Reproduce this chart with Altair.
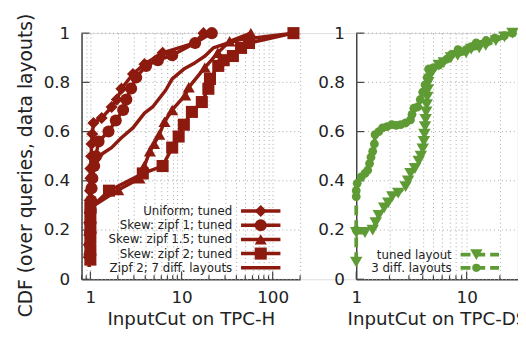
import altair as alt
import pandas as pd

RED = "#8C1A0F"
GREEN = "#5F9B35"
AXIS = "#444444"
GRID = "#a8a8a8"
TEXT = "#222222"
FONT = "DejaVu Sans"

# ---------------- TPC-H (left panel) ----------------
h_names = ["Uniform; tuned", "Skew: zipf 1; tuned", "Skew: zipf 1.5; tuned",
           "Skew: zipf 2; tuned", "Zipf 2; 7 diff. layouts"]
h_shapes = ["diamond", "circle", "triangle-up", "square"]

uni_x = [0.96, 0.96, 0.97, 0.97, 0.98, 0.98, 0.99, 1.0, 1.0, 1.02, 1.03, 1.05,
         1.08, 1.33, 1.71, 1.95, 2.19, 2.93, 3.92, 6.2, 14, 17.4]
uni_y = [0.09, 0.14, 0.18, 0.23, 0.27, 0.32, 0.36, 0.41, 0.45, 0.50, 0.55, 0.59,
         0.635, 0.655, 0.70, 0.73, 0.774, 0.834, 0.874, 0.92, 0.96, 1.0]

z1_x = [0.98, 0.99, 1.0, 1.0, 1.01, 1.02, 1.03, 1.05, 1.1, 1.15, 1.23, 1.58,
        1.9, 2.29, 2.48, 2.8, 3.18, 4.08, 5.5, 7.9, 14.1, 21.5]
z1_y = [0.10, 0.14, 0.19, 0.23, 0.28, 0.32, 0.37, 0.41, 0.46, 0.50, 0.56, 0.60,
        0.645, 0.688, 0.73, 0.775, 0.82, 0.867, 0.89, 0.91, 0.96, 1.0]

z15_x = [1.0, 1.0, 1.0, 1.0, 1.0, 1.0, 2.02, 3.46, 3.9, 4.5, 5.0, 5.7,
         6.5, 7.9, 11, 12, 18, 25, 33.7, 57.6]
z15_y = [0.08, 0.12, 0.17, 0.21, 0.25, 0.29, 0.363, 0.41, 0.46, 0.52, 0.55, 0.588,
         0.64, 0.688, 0.748, 0.78, 0.86, 0.92, 0.967, 1.0]

z2_x = [1.0, 1.0, 1.0, 1.0, 1.0, 1.0, 1.6, 3.76, 6.2, 7.9, 9.3, 10.6,
        13, 16.7, 19.7, 20.5, 25.3, 29, 36.6, 45, 55, 169]
z2_y = [0.08, 0.12, 0.17, 0.21, 0.25, 0.29, 0.36, 0.43, 0.46, 0.535, 0.58, 0.628,
        0.68, 0.72, 0.774, 0.814, 0.867, 0.89, 0.907, 0.94, 0.96, 1.0]

z2l_x = [0.97, 0.98, 1.0, 1.05, 1.15, 1.35, 1.71, 2.19, 2.93, 3.92, 4.82, 6.7,
         7.9, 10.6, 14.1, 18.1, 22.3, 28.5, 42.8, 169]
z2l_y = [0.05, 0.20, 0.35, 0.42, 0.47, 0.51, 0.535, 0.575, 0.615, 0.675, 0.70, 0.768,
         0.814, 0.854, 0.88, 0.907, 0.94, 0.953, 0.973, 1.0]

h_ticks_major = [1, 10, 100]
h_ticks_minor = [0.8, 0.9, 2, 3, 4, 5, 6, 7, 8, 9, 20, 30, 40, 50, 60, 70, 80, 90, 200]

# ---------------- TPC-DS (right panel) ----------------
ds_names = ["tuned layout", "3 diff. layouts"]

tun_x = [1.0, 1.0, 1.2, 1.41, 1.5, 1.6, 1.79, 1.95, 2.12, 2.4, 2.8,
         2.95, 3.1, 3.4, 3.68, 3.85, 4.0, 4.1, 4.15, 4.2, 4.25, 4.3, 4.35, 4.4,
         4.45, 4.5, 4.7, 5.0, 5.6, 6.2, 7.2, 8.3, 9.9, 11, 13, 14.9, 18.4, 22, 26]
tun_y = [0.07, 0.19, 0.19, 0.20, 0.23, 0.26, 0.29, 0.31, 0.336, 0.35, 0.376,
         0.40, 0.43, 0.45, 0.48, 0.50, 0.53, 0.56, 0.59, 0.62, 0.65, 0.68, 0.71, 0.74,
         0.77, 0.80, 0.83, 0.85, 0.87, 0.88, 0.90, 0.91, 0.92, 0.935, 0.94, 0.95, 0.97, 0.985, 1.0]

dif_x = [1.0, 1.0, 1.0, 1.02, 1.11, 1.2, 1.27, 1.32, 1.36, 1.41, 1.46, 1.48, 1.6, 1.73,
         1.9, 2.1, 2.3, 2.53, 2.8, 3.1, 3.2, 3.33, 3.6, 3.8, 4.0, 4.2, 4.4, 4.52,
         5.0, 5.6, 6.6, 7.3, 8.35, 9.9, 11, 12.2, 15, 18, 22, 26]
dif_y = [0.20, 0.336, 0.36, 0.39, 0.416, 0.43, 0.443, 0.47, 0.496, 0.52, 0.55, 0.588, 0.60, 0.615,
         0.62, 0.628, 0.625, 0.628, 0.635, 0.648, 0.67, 0.695, 0.70, 0.73, 0.76, 0.79, 0.82, 0.854,
         0.86, 0.87, 0.894, 0.914, 0.933, 0.933, 0.945, 0.96, 0.97, 0.98, 0.99, 1.0]

ds_ticks_major = [1, 10]
ds_ticks_minor = [2, 3, 4, 5, 6, 7, 8, 9, 20]

y_ticks = [0, 0.2, 0.4, 0.6, 0.8, 1.0]

# ---------------- layout constants ----------------
W, H = 443, 250            # one plot area holding both panels
L_RANGE = [0, 222]         # pixel span of the TPC-H panel
R_RANGE = [279, 443]       # pixel span of the TPC-DS panel
LABEL_SIZE = 17
TITLE_SIZE = 18.5


def frame(names, series):
    rows = []
    for name, (xs, ys) in zip(names, series):
        for i, (a, b) in enumerate(zip(xs, ys)):
            rows.append({"series": name, "x": a, "y": b, "idx": i})
    return pd.DataFrame(rows)


def x_axis(title, majors, minors):
    cond = " || ".join(f"datum.value == {m}" for m in majors)
    return alt.Axis(
        title=title, orient="bottom", values=sorted(majors + minors), ticks=False,
        labelExpr=f"({cond}) ? format(datum.value, 'd') : ''",
        labelOverlap=False, labelFlush=False, labelPadding=10.5,
        grid=True, gridDash=[1, 3], gridColor=GRID, gridWidth=1,
        domainColor=AXIS, domainWidth=1.5, labelFont=FONT, titleFont=FONT,
        labelFontSize=LABEL_SIZE, titleFontSize=TITLE_SIZE, labelColor=TEXT,
        titleColor=TEXT, titleFontWeight="normal", titleBaseline="alphabetic", titleY=45.5,
    )


def y_axis(title, offset):
    kw = dict(
        orient="left", offset=offset, values=y_ticks, format="~g", ticks=False, labelPadding=12,
        grid=False, domainColor=AXIS, domainWidth=1.5, labelFont=FONT, titleFont=FONT,
        labelFontSize=LABEL_SIZE, titleFontSize=19, labelColor=TEXT,
        titleColor=TEXT, titleFontWeight="normal", titlePadding=8, title=title,
    )
    if title:
        kw["titleY"] = 134
    return alt.Axis(**kw)


def frame_layers(xscale, xaxis, yscale, yaxis, majors, minors, x0, x1):
    X = lambda f: alt.X(f, scale=xscale, axis=xaxis)
    Y = lambda f: alt.Y(f, scale=yscale, axis=yaxis)
    layers = [
        alt.Chart(pd.DataFrame({"v": y_ticks})).mark_rule(
            color=GRID, strokeWidth=1, strokeDash=[1, 3]).encode(
            y=Y("v:Q"), x=alt.value(x0), x2=alt.value(x1)),
        alt.Chart(pd.DataFrame({"v": majors})).mark_rule(color=AXIS, strokeWidth=1.2).encode(
            x=X("v:Q"), y=alt.value(H), y2=alt.value(H - 8)),
        alt.Chart(pd.DataFrame({"v": minors})).mark_rule(color=AXIS, strokeWidth=1.2).encode(
            x=X("v:Q"), y=alt.value(H), y2=alt.value(H - 4)),
        alt.Chart(pd.DataFrame({"v": y_ticks})).mark_rule(color=AXIS, strokeWidth=1.2).encode(
            y=Y("v:Q"), x=alt.value(x0), x2=alt.value(x0 + 8)),
    ]
    return layers, X, Y


ys_l = alt.Scale(domain=[0, 1], nice=False)
ys_r = alt.Scale(domain=[0, 1], nice=False)

# ---------- left panel ----------
hdf = frame(h_names, [(uni_x, uni_y), (z1_x, z1_y), (z15_x, z15_y), (z2_x, z2_y), (z2l_x, z2l_y)])
hx = alt.Scale(type="log", domain=[0.8, 200], range=L_RANGE, nice=False)
hxa = x_axis("InputCut on TPC-H", h_ticks_major, h_ticks_minor)
hya = y_axis("CDF (over queries, data layouts)", 0)
h_frame, HX, HY = frame_layers(hx, hxa, ys_l, hya, h_ticks_major, h_ticks_minor,
                               L_RANGE[0], L_RANGE[1])

h_lines = alt.Chart(hdf).mark_line(color=RED, strokeWidth=3.5, strokeJoin="round").encode(
    x=HX("x:Q"), y=HY("y:Q"), detail="series:N", order="idx:Q")
h_points = alt.Chart(hdf).transform_filter(
    alt.FieldOneOfPredicate(field="series", oneOf=h_names[:4])
).mark_point(filled=True, opacity=1, color=RED, size=150).encode(
    x=HX("x:Q"), y=HY("y:Q"),
    shape=alt.Shape("series:N", scale=alt.Scale(domain=h_names[:4], range=h_shapes), legend=None),
)

h_leg = []
rows_l = [180.7, 195.1, 209.5, 223.9, 238.3]
for i, name in enumerate(h_names):
    d = pd.DataFrame({"label": [name]})
    h_leg.append(alt.Chart(d).mark_text(align="right", baseline="middle", font=FONT, fontSize=12,
                                        color=TEXT).encode(
        text="label:N", x=alt.value(153), y=alt.value(rows_l[i])))
    h_leg.append(alt.Chart(d).mark_rule(color=RED, strokeWidth=3.5).encode(
        x=alt.value(162), x2=alt.value(202), y=alt.value(rows_l[i])))
    if i < 4:
        h_leg.append(alt.Chart(d).mark_point(filled=True, opacity=1, color=RED, size=150,
                                             shape=h_shapes[i]).encode(
            x=alt.value(182), y=alt.value(rows_l[i])))

left = alt.layer(*h_frame, h_lines, h_points, *h_leg)

# ---------- right panel ----------
ddf = frame(ds_names, [(tun_x, tun_y), (dif_x, dif_y)])
dx = alt.Scale(type="log", domain=[1, 29], range=R_RANGE, nice=False)
dxa = x_axis("InputCut on TPC-DS", ds_ticks_major, ds_ticks_minor)
dya = y_axis(None, -R_RANGE[0])
d_frame, DX, DY = frame_layers(dx, dxa, ys_r, dya, ds_ticks_major, ds_ticks_minor,
                               R_RANGE[0], R_RANGE[1])

d_lines = alt.Chart(ddf).mark_line(color=GREEN, strokeWidth=3.8, strokeDash=[10, 5]).encode(
    x=DX("x:Q"), y=DY("y:Q"), detail="series:N", order="idx:Q")
d_tri = alt.Chart(ddf).transform_filter(alt.datum.series == ds_names[0]).mark_point(
    filled=True, opacity=1, color=GREEN, size=160, shape="triangle-down").encode(
    x=DX("x:Q"), y=DY("y:Q"))
d_dot = alt.Chart(ddf).transform_filter(alt.datum.series == ds_names[1]).mark_point(
    filled=True, opacity=1, color=GREEN, size=80, shape="circle").encode(
    x=DX("x:Q"), y=DY("y:Q"))

d_leg = []
rows_r = [225.0, 238.3]
shp = [("triangle-down", 160), ("circle", 70)]
ox = R_RANGE[0]
for i, name in enumerate(ds_names):
    d = pd.DataFrame({"label": [name]})
    d_leg.append(alt.Chart(d).mark_text(align="right", baseline="middle", font=FONT, fontSize=12,
                                        color=TEXT).encode(
        text="label:N", x=alt.value(ox + 97), y=alt.value(rows_r[i])))
    d_leg.append(alt.Chart(d).mark_rule(color=GREEN, strokeWidth=3.8, strokeDash=[10, 5]).encode(
        x=alt.value(ox + 106), x2=alt.value(ox + 145), y=alt.value(rows_r[i])))
    d_leg.append(alt.Chart(d).mark_point(filled=True, opacity=1, color=GREEN, size=shp[i][1],
                                         shape=shp[i][0]).encode(
        x=alt.value(ox + 122), y=alt.value(rows_r[i])))

right = alt.layer(*d_frame, d_lines, d_tri, d_dot, *d_leg)

chart = alt.layer(left, right).resolve_scale(
    x="independent", y="independent", shape="independent"
).properties(
    width=W, height=H,
    autosize=alt.AutoSizeParams(type="none"),
    padding={"left": 74.7, "top": 23, "right": 0.3, "bottom": 50},
).configure_view(stroke=None).configure(background="white")

chart.save("out.html", embed_options={"renderer": "svg", "actions": False})
